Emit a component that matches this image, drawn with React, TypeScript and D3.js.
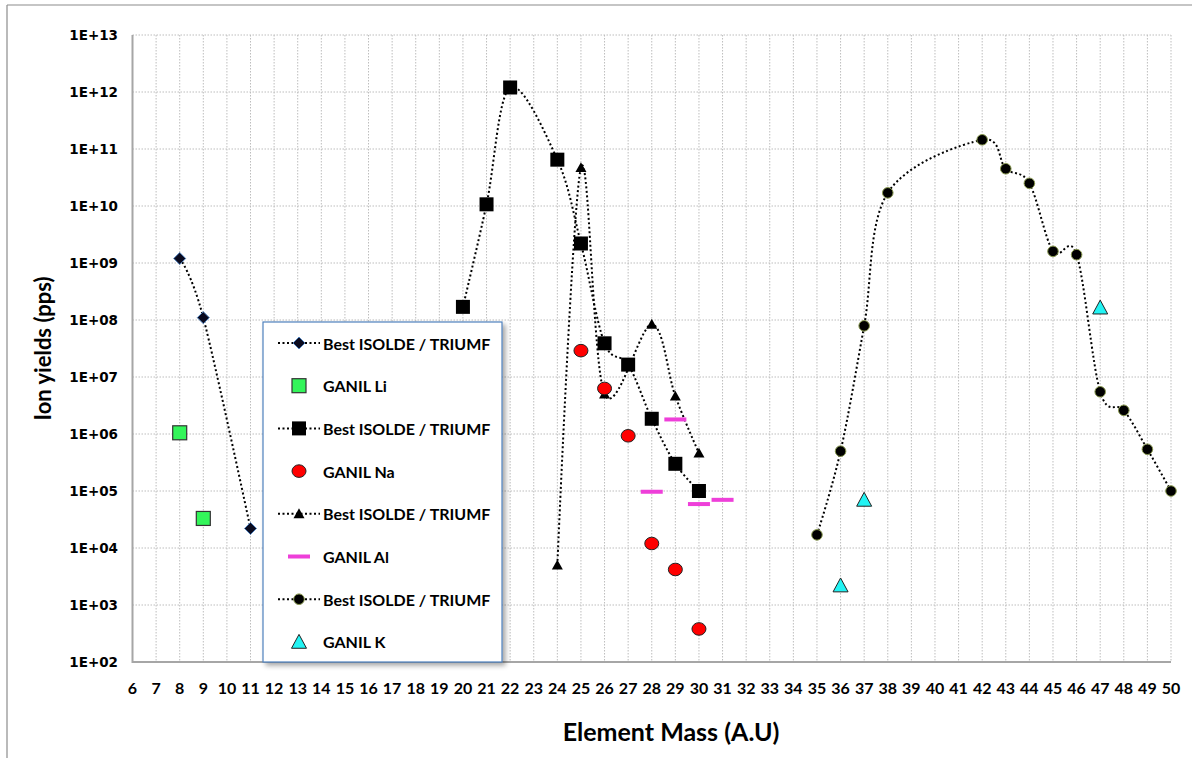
import React from "react";
import * as d3 from "d3";

// Mass numbers (A.U) and ion yields (pps) for each series
const isoldeLiMass = [8, 9, 11];
const isoldeLiYield = [1.2e9, 1.1e8, 2.2e4];

const ganilLiMass = [8, 9];
const ganilLiYield = [1.05e6, 3.3e4];

const isoldeNaMass = [20, 21, 22, 24, 25, 26, 27, 28, 29, 30];
const isoldeNaYield = [1.7e8, 1.07e10, 1.2e12, 6.5e10, 2.2e9, 3.9e7, 1.65e7, 1.85e6, 3.0e5, 1.0e5];

const ganilNaMass = [25, 26, 27, 28, 29, 30];
const ganilNaYield = [2.9e7, 6.3e6, 9.3e5, 1.2e4, 4.2e3, 3.8e2];

const isoldeAlMass = [24, 25, 26, 28, 29, 30];
const isoldeAlYield = [5e3, 4.7e10, 5e6, 8.4e7, 4.6e6, 4.6e5];

const ganilAlMass = [28, 29, 30, 31];
const ganilAlYield = [9.7e4, 1.8e6, 5.9e4, 7e4];

const isoldeKMass = [35, 36, 37, 38, 42, 43, 44, 45, 46, 47, 48, 49, 50];
const isoldeKYield = [1.7e4, 5e5, 7.9e7, 1.7e10, 1.45e11, 4.5e10, 2.5e10, 1.6e9, 1.4e9, 5.5e6, 2.6e6, 5.4e5, 1.0e5];

const ganilKMass = [36, 37, 47];
const ganilKYield = [2.2e3, 7e4, 1.65e8];

const massTicks = d3.range(6, 51);
const yieldExponents = d3.range(2, 14);

const legendLabels = [
  "Best ISOLDE / TRIUMF",
  "GANIL Li",
  "Best ISOLDE / TRIUMF",
  "GANIL Na",
  "Best ISOLDE / TRIUMF",
  "GANIL Al",
  "Best ISOLDE / TRIUMF",
  "GANIL K",
];

const W = 1192;
const H = 758;
const FONT = "Lato, 'Open Sans', sans-serif";

type Shape = "diamond" | "square" | "greenSquare" | "redCircle" | "triangle" | "dash" | "blackCircle" | "cyanTriangle";

function Marker({ shape, cx, cy }: { shape: Shape; cx: number; cy: number }) {
  switch (shape) {
    case "diamond": {
      const r = 6;
      return (
        <path
          d={`M${cx},${cy - r}L${cx + r},${cy}L${cx},${cy + r}L${cx - r},${cy}Z`}
          fill="#0a0a1e"
          stroke="#4f81bd"
          strokeWidth={1}
        />
      );
    }
    case "square":
      return <rect x={cx - 7} y={cy - 7} width={14} height={14} fill="#000" />;
    case "greenSquare":
      return <rect x={cx - 7} y={cy - 7} width={14} height={14} fill="#33f55a" stroke="#333" strokeWidth={1.2} />;
    case "redCircle":
      return <ellipse cx={cx} cy={cy} rx={7} ry={6.3} fill="#ff0000" stroke="#222" strokeWidth={1} />;
    case "triangle": {
      const s = 5.5;
      return <path d={`M${cx},${cy - s}L${cx + s},${cy + s * 0.8}L${cx - s},${cy + s * 0.8}Z`} fill="#000" />;
    }
    case "dash":
      return <rect x={cx - 11} y={cy - 2} width={22} height={4} fill="#ee3fd9" />;
    case "blackCircle":
      return <circle cx={cx} cy={cy} r={5.3} fill="#000" stroke="#8a9a50" strokeWidth={1} />;
    case "cyanTriangle": {
      const s = 7.5;
      return (
        <path
          d={`M${cx},${cy - s}L${cx + s},${cy + s * 0.85}L${cx - s},${cy + s * 0.85}Z`}
          fill="#22f4f4"
          stroke="#222"
          strokeWidth={1}
        />
      );
    }
  }
  return null;
}

export default function App() {
  const x = d3.scaleLinear().domain([6, 50]).range([132.5, 1171]);
  const y = d3.scaleLog().domain([1e2, 1e13]).range([662, 35]);

  const line = d3
    .line<[number, number]>()
    .x((d) => x(d[0]))
    .y((d) => y(d[1]))
    .curve(d3.curveCardinal.tension(0));

  const series: { mass: number[]; values: number[]; shape: Shape; lined: boolean }[] = [
    { mass: isoldeLiMass, values: isoldeLiYield, shape: "diamond", lined: true },
    { mass: ganilLiMass, values: ganilLiYield, shape: "greenSquare", lined: false },
    { mass: isoldeNaMass, values: isoldeNaYield, shape: "square", lined: true },
    { mass: isoldeAlMass, values: isoldeAlYield, shape: "triangle", lined: true },
    { mass: ganilNaMass, values: ganilNaYield, shape: "redCircle", lined: false },
    { mass: ganilAlMass, values: ganilAlYield, shape: "dash", lined: false },
    { mass: isoldeKMass, values: isoldeKYield, shape: "blackCircle", lined: true },
    { mass: ganilKMass, values: ganilKYield, shape: "cyanTriangle", lined: false },
  ];

  const legendShapes: { shape: Shape; lined: boolean }[] = [
    { shape: "diamond", lined: true },
    { shape: "greenSquare", lined: false },
    { shape: "square", lined: true },
    { shape: "redCircle", lined: false },
    { shape: "triangle", lined: true },
    { shape: "dash", lined: false },
    { shape: "blackCircle", lined: true },
    { shape: "cyanTriangle", lined: false },
  ];

  const [x0, x1] = x.range();
  const [yb, yt] = y.range();

  const legend = { x: 263, y: 322, w: 239, h: 340, rowH: 42.7, first: 343 };

  return (
    <svg
      width={W}
      height={H}
      style={{ position: "absolute", left: 0, top: 0, background: "#fff" }}
      fontFamily={FONT}
    >
      <defs>
        <filter id="legendShadow" x="-10%" y="-10%" width="130%" height="130%">
          <feDropShadow dx="3" dy="3" stdDeviation="2.5" floodColor="#000" floodOpacity="0.35" />
        </filter>
      </defs>
      <rect x={0} y={0} width={W} height={H} fill="#fff" />
      {/* outer chart frame */}
      <line x1={7} y1={5} x2={W} y2={5} stroke="#8c8c8c" strokeWidth={1.2} />
      <line x1={7} y1={5} x2={7} y2={H} stroke="#8c8c8c" strokeWidth={1.2} />

      {/* gridlines */}
      {massTicks.map((m) => (
        <line key={`vx${m}`} x1={x(m)} x2={x(m)} y1={yt} y2={yb} stroke="#bdbdbd" strokeWidth={1} strokeDasharray="1.5,1.5" />
      ))}
      {yieldExponents.map((e) => (
        <line key={`hy${e}`} x1={x0} x2={x1} y1={y(10 ** e)} y2={y(10 ** e)} stroke="#bdbdbd" strokeWidth={1} strokeDasharray="1.5,1.5" />
      ))}

      {/* axis lines */}
      <line x1={x0} x2={x0} y1={yt} y2={yb + 1} stroke="#a6a6a6" strokeWidth={2} />
      <line x1={x0} x2={x1} y1={yb} y2={yb} stroke="#a6a6a6" strokeWidth={2} />

      {/* tick labels */}
      {yieldExponents.map((e) => (
        <text
          key={`ty${e}`}
          x={118}
          y={y(10 ** e)}
          textAnchor="end"
          dominantBaseline="central"
          fontFamily="'DejaVu Sans', sans-serif"
          fontWeight="bold"
          fontSize={13.5}
          fill="#000"
        >
          {`1E+${String(e).padStart(2, "0")}`}
        </text>
      ))}
      {massTicks.map((m) => (
        <text key={`tx${m}`} x={x(m)} y={687} textAnchor="middle" dominantBaseline="central" fontWeight="bold" fontSize={16} fill="#000">
          {m}
        </text>
      ))}

      {/* axis titles */}
      <text
        transform={`translate(42,${(yt + yb) / 2}) rotate(-90)`}
        textAnchor="middle"
        dominantBaseline="central"
        fontWeight="bold"
        fontSize={22}
        fill="#000"
      >
        Ion yields (pps)
      </text>
      <text x={671} y={731} textAnchor="middle" dominantBaseline="central" fontWeight="bold" fontSize={25} fill="#000">
        Element Mass (A.U)
      </text>

      {/* series lines */}
      {series
        .filter((s) => s.lined)
        .map((s, i) => (
          <path
            key={`l${i}`}
            d={line(s.mass.map((m, j) => [m, s.values[j]] as [number, number])) || ""}
            fill="none"
            stroke="#000"
            strokeWidth={2}
            strokeDasharray="2,2.5"
          />
        ))}

      {/* legend box */}
      <rect
        x={legend.x}
        y={legend.y}
        width={legend.w}
        height={legend.h}
        fill="#fff"
        stroke="#4f81bd"
        strokeWidth={1.2}
        filter="url(#legendShadow)"
      />

      {/* series markers */}
      {series.map((s, i) =>
        s.mass.map((m, j) => <Marker key={`m${i}-${j}`} shape={s.shape} cx={x(m)} cy={y(s.values[j])} />)
      )}

      {/* legend entries */}
      {legendShapes.map((ls, i) => {
        const cy = legend.first + i * legend.rowH;
        return (
          <g key={`lg${i}`}>
            {ls.lined && (
              <line x1={278} x2={320} y1={cy} y2={cy} stroke="#000" strokeWidth={2} strokeDasharray="2,2.5" />
            )}
            <Marker shape={ls.shape} cx={299} cy={cy} />
            <text x={323} y={cy} dominantBaseline="central" fontWeight="bold" fontSize={16} fill="#000">
              {legendLabels[i]}
            </text>
          </g>
        );
      })}
    </svg>
  );
}
